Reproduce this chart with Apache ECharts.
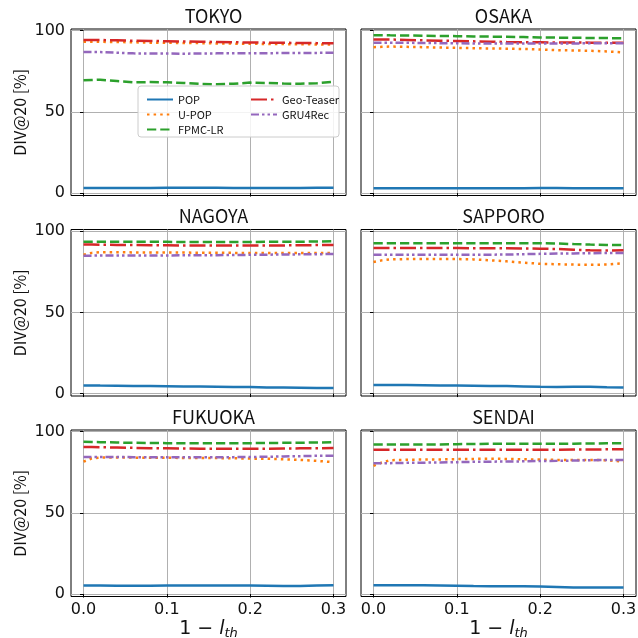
<!DOCTYPE html>
<html>
<head>
<meta charset="utf-8">
<script src="https://cdn.jsdelivr.net/npm/echarts@6/dist/echarts.min.js"></script>
<style>
  html, body { margin: 0; padding: 0; background: #fff; }
  #chart { width: 638px; height: 638px; }
</style>
</head>
<body>
<div id="chart"></div>
<script>
// Diversity (DIV@20) of each recommender versus the threshold 1 - l_th, one panel per city.
const cities = ['TOKYO', 'OSAKA', 'NAGOYA', 'SAPPORO', 'FUKUOKA', 'SENDAI'];
const methods = ['POP', 'U-POP', 'FPMC-LR', 'Geo-Teaser', 'GRU4Rec'];
const thresholds = [0, 0.01, 0.02, 0.04, 0.06, 0.08, 0.10, 0.12, 0.14, 0.16, 0.18, 0.20, 0.22, 0.24, 0.26, 0.28, 0.30];
const xTicks = [0, 0.1, 0.2, 0.3];
const yTicks = [0, 50, 100];

const TOKYO_POP    = [3.1, 3.1, 3.1, 3.1, 3.1, 3.1, 3.2, 3.2, 3.2, 3.2, 3.1, 3.1, 3.1, 3.1, 3.1, 3.2, 3.2];
const TOKYO_UPOP   = [93.2, 93.2, 93.1, 93.0, 92.8, 92.6, 92.5, 92.4, 92.3, 92.1, 92.0, 91.9, 91.8, 91.7, 91.6, 91.5, 91.4];
const TOKYO_FPMC   = [69.4, 69.6, 69.8, 69.0, 68.2, 68.3, 68.2, 67.8, 67.2, 67.0, 67.3, 68.0, 67.8, 67.4, 67.3, 67.6, 68.5];
const TOKYO_GEO    = [94.3, 94.3, 94.2, 94.0, 93.8, 93.6, 93.5, 93.3, 93.2, 93.0, 92.8, 92.7, 92.6, 92.5, 92.4, 92.3, 92.2];
const TOKYO_GRU    = [86.9, 86.9, 86.8, 86.4, 86.0, 85.9, 85.9, 85.8, 85.9, 86.0, 86.0, 86.1, 86.1, 86.2, 86.2, 86.3, 86.4];

const OSAKA_POP    = [2.9, 2.9, 2.9, 2.9, 2.9, 2.9, 3.0, 3.0, 3.0, 3.0, 3.0, 3.1, 3.1, 3.0, 3.0, 3.0, 3.0];
const OSAKA_UPOP   = [89.8, 90.0, 90.2, 90.0, 89.8, 89.6, 89.4, 89.2, 89.0, 88.9, 88.7, 88.4, 88.0, 87.8, 87.6, 87.2, 86.6];
const OSAKA_FPMC   = [97.2, 97.2, 97.1, 97.0, 96.8, 96.7, 96.6, 96.4, 96.3, 96.2, 96.0, 95.8, 95.7, 95.6, 95.5, 95.4, 95.3];
const OSAKA_GEO    = [94.6, 94.6, 94.5, 94.3, 94.0, 93.8, 93.6, 93.4, 93.2, 93.0, 92.9, 92.8, 92.7, 92.7, 92.6, 92.6, 92.6];
const OSAKA_GRU    = [92.6, 92.6, 92.6, 92.5, 92.4, 92.3, 92.2, 92.1, 92.0, 92.0, 92.0, 92.1, 92.1, 92.1, 92.2, 92.2, 92.2];

const NAGOYA_POP   = [5.0, 5.0, 4.9, 4.8, 4.7, 4.6, 4.5, 4.4, 4.3, 4.2, 4.1, 4.0, 3.8, 3.7, 3.6, 3.5, 3.4];
const NAGOYA_UPOP  = [85.4, 86.6, 87.0, 87.0, 86.9, 86.9, 86.8, 86.8, 86.7, 86.7, 86.6, 86.6, 86.5, 86.5, 86.5, 86.5, 86.6];
const NAGOYA_FPMC  = [93.5, 93.5, 93.5, 93.5, 93.4, 93.4, 93.4, 93.3, 93.3, 93.3, 93.3, 93.3, 93.4, 93.4, 93.5, 93.6, 93.8];
const NAGOYA_GEO   = [91.7, 91.7, 91.6, 91.5, 91.4, 91.3, 91.3, 91.2, 91.2, 91.1, 91.1, 91.1, 91.2, 91.2, 91.3, 91.4, 91.5];
const NAGOYA_GRU   = [84.9, 84.9, 85.0, 85.0, 85.0, 85.0, 85.0, 85.1, 85.1, 85.2, 85.3, 85.4, 85.5, 85.6, 85.7, 85.8, 85.9];

const SAPPORO_POP  = [5.2, 5.2, 5.2, 5.2, 5.1, 5.0, 4.9, 4.8, 4.7, 4.6, 4.4, 4.2, 4.1, 4.2, 4.2, 3.9, 3.7];
const SAPPORO_UPOP = [81.0, 82.0, 82.6, 82.8, 82.8, 82.8, 82.8, 82.6, 82.0, 81.4, 80.6, 79.9, 79.6, 79.4, 79.3, 79.4, 80.2];
const SAPPORO_FPMC = [92.5, 92.5, 92.5, 92.5, 92.5, 92.5, 92.5, 92.5, 92.6, 92.6, 92.6, 92.6, 92.4, 92.0, 91.7, 91.5, 91.4];
const SAPPORO_GEO  = [89.6, 89.6, 89.6, 89.6, 89.6, 89.6, 89.6, 89.5, 89.5, 89.4, 89.3, 89.2, 89.0, 88.5, 88.2, 88.1, 88.2];
const SAPPORO_GRU  = [85.5, 85.5, 85.5, 85.5, 85.5, 85.5, 85.4, 85.4, 85.5, 85.6, 85.8, 86.0, 86.2, 86.3, 86.4, 86.5, 86.6];

const FUKUOKA_POP  = [5.2, 5.2, 5.2, 5.1, 5.1, 5.1, 5.2, 5.2, 5.2, 5.2, 5.2, 5.2, 5.1, 5.0, 5.0, 5.2, 5.4];
const FUKUOKA_UPOP = [81.5, 83.5, 84.0, 84.0, 84.0, 83.9, 83.9, 83.8, 83.8, 83.7, 83.6, 83.4, 83.3, 83.0, 82.6, 82.0, 81.2];
const FUKUOKA_FPMC = [93.7, 93.6, 93.5, 93.3, 93.1, 93.0, 92.9, 92.9, 92.9, 92.9, 92.9, 92.9, 93.0, 93.1, 93.2, 93.3, 93.4];
const FUKUOKA_GEO  = [90.5, 90.5, 90.4, 90.2, 90.0, 89.8, 89.7, 89.6, 89.5, 89.5, 89.5, 89.5, 89.5, 89.6, 89.7, 89.8, 89.9];
const FUKUOKA_GRU  = [84.4, 84.4, 84.4, 84.4, 84.3, 84.3, 84.2, 84.2, 84.2, 84.2, 84.3, 84.4, 84.5, 84.7, 84.9, 85.1, 85.2];

const SENDAI_POP   = [5.4, 5.4, 5.4, 5.4, 5.4, 5.3, 5.1, 4.9, 4.8, 4.8, 4.8, 4.7, 4.4, 4.1, 4.0, 4.0, 4.0];
const SENDAI_UPOP  = [78.9, 81.0, 82.4, 82.7, 82.8, 82.9, 83.1, 83.2, 83.3, 83.2, 83.0, 82.8, 82.6, 82.5, 82.6, 82.4, 81.5];
const SENDAI_FPMC  = [92.0, 92.0, 92.0, 92.0, 92.0, 92.1, 92.3, 92.4, 92.5, 92.5, 92.5, 92.5, 92.5, 92.6, 92.7, 92.8, 92.8];
const SENDAI_GEO   = [88.9, 88.9, 88.9, 88.9, 88.8, 88.8, 88.9, 88.9, 88.9, 88.9, 88.9, 88.9, 88.9, 89.0, 89.0, 89.1, 89.1];
const SENDAI_GRU   = [80.5, 80.5, 80.6, 80.8, 80.9, 81.0, 81.2, 81.4, 81.5, 81.6, 81.7, 81.9, 82.0, 82.2, 82.4, 82.6, 82.6];

const results = {
  TOKYO:   [TOKYO_POP, TOKYO_UPOP, TOKYO_FPMC, TOKYO_GEO, TOKYO_GRU],
  OSAKA:   [OSAKA_POP, OSAKA_UPOP, OSAKA_FPMC, OSAKA_GEO, OSAKA_GRU],
  NAGOYA:  [NAGOYA_POP, NAGOYA_UPOP, NAGOYA_FPMC, NAGOYA_GEO, NAGOYA_GRU],
  SAPPORO: [SAPPORO_POP, SAPPORO_UPOP, SAPPORO_FPMC, SAPPORO_GEO, SAPPORO_GRU],
  FUKUOKA: [FUKUOKA_POP, FUKUOKA_UPOP, FUKUOKA_FPMC, FUKUOKA_GEO, FUKUOKA_GRU],
  SENDAI:  [SENDAI_POP, SENDAI_UPOP, SENDAI_FPMC, SENDAI_GEO, SENDAI_GRU]
};

// Line appearance per method (tab10 colours, matplotlib-like dash patterns)
const LW = 2.5;
const methodStyle = [
  { color: '#1f77b4', type: 'solid' },
  { color: '#ff7f0e', type: [2.5, 4.1] },
  { color: '#2ca02c', type: [9.25, 4] },
  { color: '#d62728', type: [16, 4, 2.5, 4] },
  { color: '#9467bd', type: [8, 3, 2.5, 3, 2.5, 3] }
];

const TEXT_FONT = '"Noto Sans CJK JP", "Noto Sans", sans-serif';
const TICK_FONT = '"DejaVu Sans", sans-serif';

const colLeft = [71, 361];
const rowTop = [29, 229.5, 430];
const panelW = 275;
const panelH = 166.5;

const grids = [], xAxes = [], yAxes = [], titles = [], series = [];

cities.forEach((city, i) => {
  const row = Math.floor(i / 2), col = i % 2;
  const isBottom = row === 2, isLeft = col === 0;
  grids.push({
    left: colLeft[col], top: rowTop[row], width: panelW, height: panelH,
    containLabel: false, outerBoundsMode: 'none',
    show: true, borderColor: '#000', borderWidth: 1, backgroundColor: 'transparent'
  });
  titles.push({
    text: city,
    left: colLeft[col] + panelW / 2, top: rowTop[row] - 27, textAlign: 'center',
    textStyle: { fontFamily: TEXT_FONT, fontSize: 18, fontWeight: 'normal', color: '#111' }
  });
  xAxes.push({
    type: 'value', gridIndex: i, min: -0.015, max: 0.315,
    axisLine: { show: false },
    axisTick: { show: true, length: 3.5, customValues: xTicks, lineStyle: { color: '#000', width: 1 } },
    axisLabel: {
      show: isBottom, customValues: xTicks, margin: 5,
      formatter: v => v.toFixed(1),
      fontFamily: TICK_FONT, fontSize: 16, color: '#111'
    },
    splitLine: { show: true, lineStyle: { color: '#b0b0b0', width: 1 } },
    name: isBottom ? '{n|1 \u2212 }{i|l}{s|th}' : '',
    nameLocation: 'middle', nameGap: 22,
    nameTextStyle: {
      color: '#111',
      rich: {
        n: { fontFamily: TICK_FONT, fontSize: 19, color: '#111' },
        i: { fontFamily: TICK_FONT, fontSize: 19, fontStyle: 'italic', color: '#111' },
        s: { fontFamily: TICK_FONT, fontSize: 13, fontStyle: 'italic', color: '#111', padding: [9, 0, 0, 0] }
      }
    }
  });
  yAxes.push({
    type: 'value', gridIndex: i, min: -1.5, max: 101,
    axisLine: { show: false },
    axisTick: { show: true, length: 3.5, customValues: yTicks, lineStyle: { color: '#000', width: 1 } },
    axisLabel: {
      show: isLeft, customValues: yTicks, margin: 6,
      fontFamily: TICK_FONT, fontSize: 16, color: '#111'
    },
    splitLine: { show: true, lineStyle: { color: '#b0b0b0', width: 1 } },
    name: isLeft ? 'DIV@20 [%]' : '',
    nameLocation: 'middle', nameGap: 43,
    nameTextStyle: { fontFamily: TEXT_FONT, fontSize: 16, color: '#111' }
  });
  methods.forEach((m, k) => {
    series.push({
      name: m, type: 'line', xAxisIndex: i, yAxisIndex: i,
      data: thresholds.map((t, j) => [t, results[city][k][j]]),
      symbol: 'none', showSymbol: false,
      lineStyle: { color: methodStyle[k].color, width: LW, type: methodStyle[k].type },
      itemStyle: { color: methodStyle[k].color },
      z: 2 + k
    });
  });
});

const legendCommon = {
  orient: 'vertical', itemWidth: 26, itemHeight: 12, itemGap: 4,
  selectedMode: false,
  itemStyle: { opacity: 0 },
  textStyle: { fontFamily: TEXT_FONT, fontSize: 11, color: '#111' },
  z: 20
};

const chart = echarts.init(document.getElementById('chart'), null, { renderer: 'canvas' });
chart.setOption({
  animation: false,
  backgroundColor: '#fff',
  title: titles,
  grid: grids,
  xAxis: xAxes,
  yAxis: yAxes,
  legend: [
    Object.assign({}, legendCommon, { left: 141, top: 89, data: methods.slice(0, 3) }),
    Object.assign({}, legendCommon, { left: 245, top: 89, data: methods.slice(3) })
  ],
  graphic: [{
    type: 'rect', z: 15,
    shape: { x: 138, y: 86, width: 201, height: 51, r: 3 },
    style: { fill: 'rgba(255,255,255,0.85)', stroke: '#cccccc', lineWidth: 1 }
  }],
  series: series
});
</script>
</body>
</html>
